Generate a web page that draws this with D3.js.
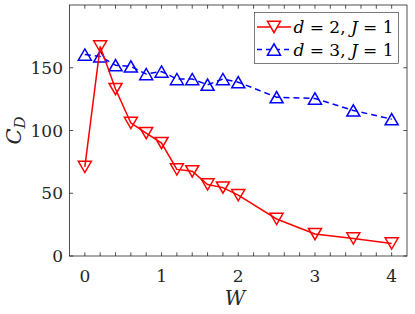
<!DOCTYPE html>
<html><head><meta charset="utf-8">
<script src="https://cdn.jsdelivr.net/npm/d3@7"></script>
<style>body{margin:0;background:#fff} text{font-family:"DejaVu Serif",serif}</style>
</head><body>
<svg id="c" width="415" height="314"></svg>
<script>
const W2 = [0,0.2,0.4,0.6,0.8,1.0,1.2,1.4,1.6,1.8,2.0,2.5,3,3.5,4];
const cd2 = [71,167,133,106,98,90,69,67.5,57,54.5,48.5,29.5,17.5,14,10];
const W3 = [0,0.2,0.4,0.6,0.8,1.0,1.2,1.4,1.6,1.8,2.0,2.5,3,3.5,4];
const cd3 = [160.5,159,152,151,145,147,141,141,136.5,141,138.5,126.5,125.5,116,109];
const xTicks = [0,1,2,3,4];
const yTicks = [0,50,100,150];
const legendLabels = ["d = 2, J = 1","d = 3, J = 1"];

const svg = d3.select("#c");
const L=69.5, R=407, T=5, B=256;
const x = d3.scaleLinear().domain([-0.2,4.2]).range([L,R]);
const y = d3.scaleLinear().domain([0,200]).range([B,T]);
const axCol="#262626";

svg.append("rect").attr("x",L).attr("y",T).attr("width",R-L).attr("height",B-T)
  .attr("fill","none").attr("stroke",axCol).attr("stroke-width",0.8);

const minor = d3.range(0,4.01,0.2);
const g = svg.append("g").attr("stroke",axCol).attr("stroke-width",0.8);
minor.forEach(v=>{
  const len = 3.7;
  g.append("line").attr("x1",x(v)).attr("x2",x(v)).attr("y1",B).attr("y2",B-len);
  g.append("line").attr("x1",x(v)).attr("x2",x(v)).attr("y1",T).attr("y2",T+len);
});
yTicks.forEach(v=>{
  g.append("line").attr("x1",L).attr("x2",L+3.7).attr("y1",y(v)).attr("y2",y(v));
  g.append("line").attr("x1",R).attr("x2",R-3.7).attr("y1",y(v)).attr("y2",y(v));
});
xTicks.forEach(v=>{
  svg.append("text").attr("x",x(v)).attr("y",B+25.5).attr("text-anchor","middle")
    .attr("font-size",17).attr("fill",axCol).text(v);
});
yTicks.forEach(v=>{
  svg.append("text").attr("x",L-6.5).attr("y",y(v)+6.2).attr("text-anchor","end")
    .attr("font-size",17).attr("fill",axCol).text(v);
});
svg.append("text").attr("x",235).attr("y",305).attr("text-anchor","middle")
  .attr("font-style","italic").attr("font-size",20).attr("fill",axCol).text("W");
const yl = svg.append("text").attr("transform",`translate(21,${(T+B)/2}) rotate(-90)`)
  .attr("text-anchor","middle").attr("font-style","italic")
  .attr("font-size",21).attr("fill",axCol);
yl.append("tspan").text("C");
yl.append("tspan").attr("font-size",15).attr("dy",4).text("D");

function tri(cx,cy,down,s){
  const h=s*0.866;
  if(down) return `M${cx-s/2},${cy-h/2}L${cx+s/2},${cy-h/2}L${cx},${cy+h/2}Z`;
  return `M${cx-s/2},${cy+h/2}L${cx+s/2},${cy+h/2}L${cx},${cy-h/2}Z`;
}
const line = d3.line().x(d=>x(d[0])).y(d=>y(d[1]));
const s2 = W2.map((w,i)=>[w,cd2[i]]);
const s3 = W3.map((w,i)=>[w,cd3[i]]);
svg.append("path").attr("d",line(s3)).attr("fill","none").attr("stroke","#0000ff").attr("stroke-width",1.5).attr("stroke-dasharray","6,4");
s3.forEach(d=>svg.append("path").attr("d",tri(x(d[0]),y(d[1]),false,13)).attr("fill","none").attr("stroke","#0000ff").attr("stroke-width",1.5));
svg.append("path").attr("d",line(s2)).attr("fill","none").attr("stroke","#ff0000").attr("stroke-width",1.5);
s2.forEach(d=>svg.append("path").attr("d",tri(x(d[0]),y(d[1]),true,13)).attr("fill","none").attr("stroke","#ff0000").attr("stroke-width",1.5));

const lg = svg.append("g");
lg.append("rect").attr("x",254.5).attr("y",12.5).attr("width",144).attr("height",51)
  .attr("fill","#fff").attr("stroke",axCol).attr("stroke-width",0.6);
const cols=["#ff0000","#0000ff"], dashes=[null,"5,4"];
legendLabels.forEach((lab,i)=>{
  const cy = 27 + i*22.5;
  lg.append("line").attr("x1",257).attr("x2",291).attr("y1",cy).attr("y2",cy)
    .attr("stroke",cols[i]).attr("stroke-width",1.5).attr("stroke-dasharray",dashes[i]);
  lg.append("path").attr("d",tri(274,cy,i===0,13)).attr("fill","white").attr("stroke",cols[i]).attr("stroke-width",1.5);
  const parts = lab.match(/^(d) = (\d), (J) = (\d)$/);
  const t = lg.append("text").attr("x",293.5).attr("y",cy+6).attr("font-size",17).attr("fill","#000")
    .attr("textLength",100).attr("lengthAdjust","spacing");
  t.append("tspan").attr("font-style","italic").text(parts[1]);
  t.append("tspan").text(" = "+parts[2]+", ");
  t.append("tspan").attr("font-style","italic").text(parts[3]);
  t.append("tspan").text(" = "+parts[4]);
});
</script>
</body></html>
